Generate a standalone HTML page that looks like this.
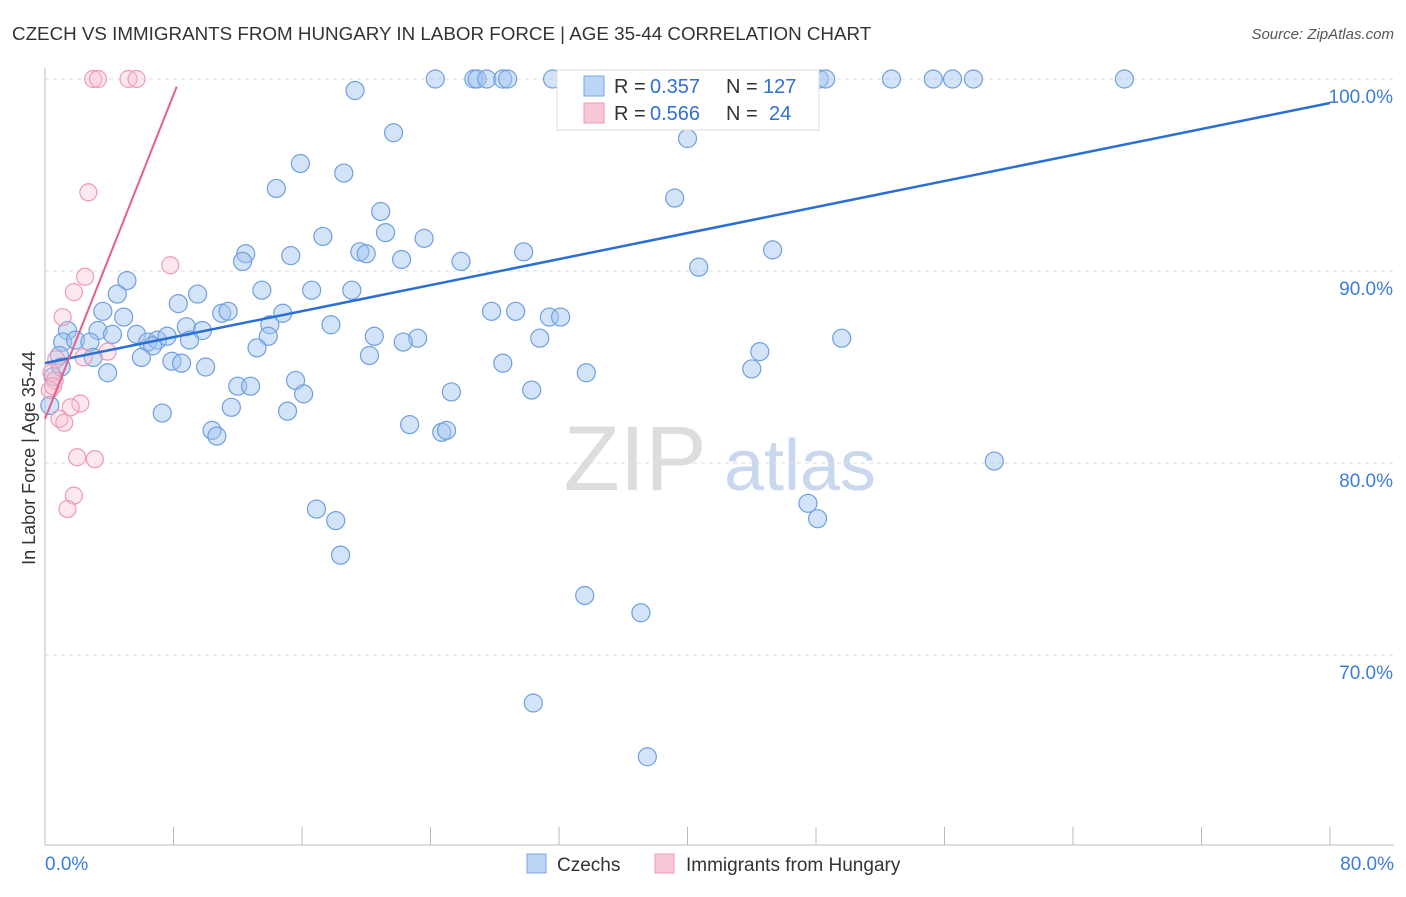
<!DOCTYPE html>
<html><head><meta charset="utf-8"><style>
body{margin:0;background:#fff;font-family:"Liberation Sans",sans-serif;}
svg text{font-family:"Liberation Sans",sans-serif;}
</style></head><body>
<svg id="chart" width="1406" height="892" xmlns="http://www.w3.org/2000/svg">
<text x="12" y="40" font-size="18.8" fill="#333">CZECH VS IMMIGRANTS FROM HUNGARY IN LABOR FORCE | AGE 35-44 CORRELATION CHART</text>
<text x="1394" y="39" font-size="15" fill="#555" text-anchor="end" font-style="italic">Source: ZipAtlas.com</text>
<text x="35" y="458" font-size="18" fill="#333" text-anchor="middle" transform="rotate(-90 35 458)">In Labor Force | Age 35-44</text>
<g><text x="635" y="490" font-size="92" fill="#ddd" text-anchor="middle" font-family="Liberation Serif">ZIP</text><text x="800" y="490" font-size="72" fill="#c9d8ee" text-anchor="middle">atlas</text></g>
<g id="grid"></g><g id="axes"></g><g id="pts"></g><g id="trend"></g>
<g>
<rect x="557" y="70" width="262" height="60" fill="#fff" stroke="#ddd"/>
<rect x="584" y="76" width="20" height="20" fill="#bcd4f5" stroke="#7aa6e6"/>
<rect x="584" y="103" width="20" height="20" fill="#f9c8d6" stroke="#ee9ab2"/>
<text x="614" y="93" font-size="20" fill="#333">R =</text><text x="650" y="93" font-size="20" fill="#2f6fd6">0.357</text>
<text x="726" y="93" font-size="20" fill="#333">N =</text><text x="763" y="93" font-size="20" fill="#2f6fd6">127</text>
<text x="614" y="120" font-size="20" fill="#333">R =</text><text x="650" y="120" font-size="20" fill="#2f6fd6">0.566</text>
<text x="726" y="120" font-size="20" fill="#333">N =</text><text x="769" y="120" font-size="20" fill="#2f6fd6">24</text>
</g>
<g>
<rect x="527" y="854" width="19" height="19" fill="#bcd4f5" stroke="#7aa6e6"/>
<text x="557" y="871" font-size="19" fill="#333">Czechs</text>
<rect x="655" y="854" width="19" height="19" fill="#f9c8d6" stroke="#ee9ab2"/>
<text x="686" y="871" font-size="19" fill="#333">Immigrants from Hungary</text>
</g>
</svg>
<script>
const yTicks=[100,90,80,70];
const blueX=[24.3,26.7,26.9,27.5,28.5,28.8,31.6,33.0,33.2,34.6,34.9,36.9,38.0,39.3,40.8,42.0,43.2,48.2,48.6,52.7,55.3,56.5,57.8,67.2,
19.3,21.7,40.0,15.9,18.6,14.4,39.2,20.9,17.3,21.2,23.6,12.5,12.3,15.3,19.6,20.0,22.2,25.9,29.8,45.3,40.7,5.1,4.5,13.5,16.6,19.1,9.5,8.3,3.6,4.9,11.0,11.4,14.8,27.8,29.3,31.4,32.1,
1.4,3.3,4.2,5.7,8.8,9.8,14.0,17.8,13.9,20.5,23.2,22.3,30.8,49.6,1.1,1.9,2.8,6.4,7.0,7.6,6.7,9.0,13.2,0.9,3.0,6.0,7.9,8.5,10.0,20.2,28.5,44.5,3.9,33.7,44.0,12.0,12.8,15.6,16.1,25.3,30.3,
7.3,11.6,15.1,10.4,10.7,22.7,24.7,25.0,59.1,16.9,18.1,47.5,48.1,18.4,33.6,37.1,30.4,37.5,0.3,0.5,1.0];
const blueY=[100,100,100,100,100,100,100,100,100,100,100,100,100,100,100,100,100,100,100,100,100,100,100,100,
99.4,97.2,96.9,95.6,95.1,94.3,93.8,93.1,91.8,92.0,91.7,90.9,90.5,90.8,91.0,90.9,90.6,90.5,91.0,91.1,90.2,89.5,88.8,89.0,89.0,89.0,88.8,88.3,87.9,87.6,87.8,87.9,87.8,87.9,87.9,87.6,87.6,
86.9,86.9,86.7,86.7,87.1,86.9,87.2,87.2,86.6,86.6,86.5,86.3,86.5,86.5,86.3,86.4,86.3,86.3,86.4,86.6,86.1,86.4,86.0,85.6,85.5,85.5,85.3,85.2,85.0,85.6,85.2,85.8,84.7,84.7,84.9,84.0,84.0,84.3,83.6,83.7,83.8,
82.6,82.9,82.7,81.7,81.4,82.0,81.6,81.7,80.1,77.6,77.0,77.9,77.1,75.2,73.1,72.2,67.5,64.7,83.0,84.5,85.0];
const pinkX=[3.0,3.3,5.2,5.7,2.7,7.8,2.5,1.8,1.1,3.9,2.4,0.7,0.4,0.6,0.3,2.2,1.6,0.9,1.2,2.0,3.1,1.8,1.4,0.5];
const pinkY=[100,100,100,100,94.1,90.3,89.7,88.9,87.6,85.8,85.5,85.4,84.7,84.3,83.8,83.1,82.9,82.3,82.1,80.3,80.2,78.3,77.6,84.0];
const blueTrend=[[0,85.2],[80,98.75]];
const pinkTrend=[[0,82.3],[8.2,99.6]];
const NS="http://www.w3.org/2000/svg";
const X=v=>45+v*1285/80, Y=v=>79+(100-v)*19.2;
function mk(t,a,p){const e=document.createElementNS(NS,t);for(const k in a)e.setAttribute(k,a[k]);p.appendChild(e);return e;}
const grid=document.getElementById('grid'),axes=document.getElementById('axes');
yTicks.forEach(t=>{
 const l=mk('line',{x1:45,x2:1394,y1:Y(t),y2:Y(t),stroke:'#ddd','stroke-dasharray':'4,4'},grid);
 
 
 const tx=mk('text',{x:1393,y:Y(t)+24,'font-size':19,fill:'#3b7dd8','text-anchor':'end'},axes);
 tx.textContent=t.toFixed(1)+'%';
 
 
});
const xa=mk('line',{x1:45,x2:1394,y1:845,y2:845,stroke:'#bbb'},axes);


const ya=mk('line',{x1:45,x2:45,y1:68,y2:845,stroke:'#bbb'},axes);


for(let i=1;i<=10;i++){const t=mk('line',{x1:X(i*8),x2:X(i*8),y1:827,y2:845,stroke:'#bbb'},axes);
 
 }
[[0,'0.0%','start',45],[80,'80.0%','end',1394]].forEach(d=>{const t=mk('text',{x:d[3],y:870,'font-size':19,fill:'#3b7dd8','text-anchor':d[2]},axes);t.textContent=d[1];
 
 });
const pts=document.getElementById('pts');
blueX.forEach((v,i)=>{const c=mk('circle',{cx:X(v),cy:Y(blueY[i]),r:9,fill:'rgba(160,195,240,0.45)',stroke:'#6f9fe0','stroke-width':1.2},pts);
 
 });
pinkX.forEach((v,i)=>{const c=mk('circle',{cx:X(v),cy:Y(pinkY[i]),r:8.5,fill:'rgba(248,190,208,0.35)',stroke:'#ee9ab2','stroke-width':1.2},pts);
 
 });
const tr=document.getElementById('trend');
const b=mk('line',{x1:X(blueTrend[0][0]),y1:Y(blueTrend[0][1]),x2:X(blueTrend[1][0]),y2:Y(blueTrend[1][1]),stroke:'#2a6fd6','stroke-width':2.5},tr);


const p=mk('line',{x1:X(pinkTrend[0][0]),y1:Y(pinkTrend[0][1]),x2:X(pinkTrend[1][0]),y2:Y(pinkTrend[1][1]),stroke:'#e4608c','stroke-width':2},tr);


</script>
</body></html>
